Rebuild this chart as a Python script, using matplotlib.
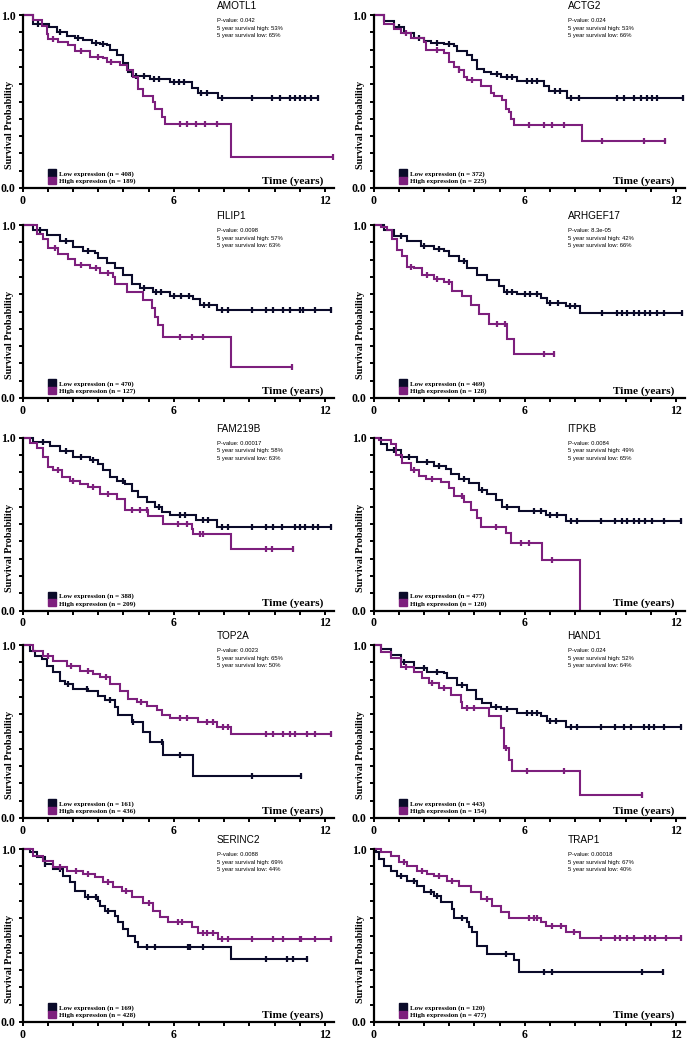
import matplotlib
matplotlib.use("Agg")
import matplotlib.pyplot as plt
import numpy as np
from matplotlib.patches import Patch
from matplotlib.ticker import MultipleLocator, FixedLocator

SERIF = ["Liberation Serif", "DejaVu Serif"]
SANS = ["Liberation Sans", "DejaVu Sans"]

LOW_COLOR = "#0b0b2a"
HIGH_COLOR = "#7d1f7d"

# ---- data: (step times, survival after step), censor times ----
genes = ["AMOTL1", "ACTG2", "FILIP1", "ARHGEF17", "FAM219B",
         "ITPKB", "TOP2A", "HAND1", "SERINC2", "TRAP1"]
p_values = ["0.042", "0.024", "0.0098", "8.3e-05", "0.00017",
            "0.0084", "0.0023", "0.024", "0.0088", "0.00018"]
surv5_high = [53, 53, 57, 42, 58, 49, 65, 52, 69, 67]
surv5_low = [65, 66, 63, 66, 63, 65, 50, 64, 44, 40]
n_low = [408, 372, 470, 469, 388, 477, 161, 443, 169, 120]
n_high = [189, 225, 127, 128, 209, 120, 436, 154, 428, 477]

# AMOTL1
amotl1_low_t = [0.42, 1.06, 1.35, 1.75, 2.08, 2.41, 2.74, 3.07, 3.33, 3.47, 3.73, 3.99, 4.19, 4.33, 5.05, 5.85, 6.71, 6.97, 7.76]
amotl1_low_s = [0.95, 0.93, 0.90, 0.88, 0.87, 0.855, 0.84, 0.83, 0.825, 0.80, 0.77, 0.72, 0.67, 0.645, 0.63, 0.61, 0.58, 0.55, 0.52]
amotl1_low_c = [0.6, 1.5, 2.2, 2.9, 3.2, 4.5, 4.8, 5.2, 5.4, 6.0, 6.2, 6.4, 7.1, 7.3, 7.9, 9.1, 9.9, 10.2, 10.6, 10.8, 11.0, 11.2, 11.45, 11.73]
amotl1_high_t = [0.42, 0.75, 0.95, 1.02, 1.42, 1.81, 2.08, 2.67, 3.2, 3.33, 3.86, 4.13, 4.39, 4.59, 4.79, 5.19, 5.25, 5.52, 5.65, 8.29]
amotl1_high_s = [0.97, 0.935, 0.89, 0.86, 0.845, 0.825, 0.79, 0.76, 0.75, 0.73, 0.71, 0.68, 0.64, 0.575, 0.53, 0.50, 0.455, 0.41, 0.37, 0.18]
amotl1_high_c = [1.2, 2.3, 3.0, 3.5, 6.24, 6.51, 6.9, 7.24, 7.7, 12.33]

# ACTG2
actg2_low_t = [0.41, 0.81, 1.2, 1.6, 2.0, 2.26, 2.79, 3.19, 3.32, 3.72, 3.92, 4.11, 4.38, 4.64, 5.04, 5.7, 6.76, 6.96, 7.69]
actg2_low_s = [0.967, 0.93, 0.895, 0.87, 0.85, 0.84, 0.83, 0.82, 0.79, 0.77, 0.74, 0.69, 0.67, 0.66, 0.64, 0.62, 0.59, 0.56, 0.52]
actg2_low_c = [1.0, 1.8, 2.5, 3.0, 4.9, 5.3, 5.5, 6.1, 6.3, 6.5, 7.2, 7.4, 7.82, 8.15, 9.67, 9.93, 10.33, 10.6, 10.86, 11.06, 11.26, 12.29]
actg2_high_t = [0.41, 0.81, 1.07, 1.47, 2.0, 2.06, 2.79, 2.99, 3.19, 3.39, 3.58, 3.72, 4.25, 4.64, 4.78, 5.11, 5.24, 5.37, 5.44, 5.57, 8.28]
actg2_high_s = [0.95, 0.917, 0.895, 0.865, 0.845, 0.80, 0.78, 0.73, 0.70, 0.68, 0.64, 0.625, 0.59, 0.55, 0.53, 0.51, 0.455, 0.44, 0.40, 0.365, 0.27]
actg2_high_c = [1.3, 2.5, 3.4, 3.9, 6.16, 6.76, 7.09, 7.55, 9.07, 10.73, 11.55]

# FILIP1
filip1_low_t = [0.42, 0.95, 1.48, 2.01, 2.41, 2.87, 3.0, 3.33, 3.66, 3.99, 4.33, 4.66, 5.19, 5.85, 6.77, 7.04, 7.7]
filip1_low_s = [0.97, 0.94, 0.905, 0.875, 0.85, 0.837, 0.81, 0.78, 0.75, 0.71, 0.66, 0.635, 0.61, 0.59, 0.57, 0.54, 0.51]
filip1_low_c = [0.7, 1.7, 2.6, 4.8, 5.3, 5.5, 6.0, 6.3, 6.6, 7.2, 7.4, 7.9, 8.16, 9.09, 9.68, 9.95, 10.34, 10.61, 11.0, 11.14, 11.6, 12.26]
filip1_high_t = [0.56, 0.82, 1.02, 1.42, 1.81, 2.08, 2.67, 3.07, 3.6, 3.66, 4.13, 4.79, 5.12, 5.25, 5.38, 5.58, 8.29]
filip1_high_s = [0.95, 0.92, 0.865, 0.83, 0.805, 0.77, 0.75, 0.72, 0.70, 0.66, 0.615, 0.567, 0.52, 0.47, 0.42, 0.35, 0.177]
filip1_high_c = [1.3, 2.3, 2.9, 3.4, 6.24, 6.71, 7.17, 10.71]

# ARHGEF17
arhgef17_low_t = [0.41, 0.81, 1.34, 1.87, 2.39, 2.79, 2.99, 3.39, 3.72, 4.11, 4.51, 4.97, 5.17, 5.7, 6.63, 6.89, 7.62, 8.21]
arhgef17_low_s = [0.97, 0.937, 0.905, 0.88, 0.86, 0.847, 0.82, 0.79, 0.75, 0.713, 0.68, 0.646, 0.61, 0.60, 0.58, 0.55, 0.53, 0.493]
arhgef17_low_c = [1.1, 2.0, 2.6, 3.6, 5.3, 5.5, 6.0, 6.2, 6.5, 7.0, 7.3, 7.8, 8.0, 9.07, 9.67, 9.87, 10.07, 10.33, 10.53, 10.79, 10.99, 11.26, 11.52, 12.25]
arhgef17_high_t = [0.28, 0.54, 0.74, 0.94, 1.14, 1.34, 1.6, 1.93, 2.39, 2.79, 3.12, 3.52, 3.85, 4.18, 4.58, 5.3, 5.57]
arhgef17_high_s = [0.99, 0.97, 0.92, 0.857, 0.82, 0.76, 0.75, 0.713, 0.69, 0.67, 0.62, 0.59, 0.54, 0.484, 0.426, 0.34, 0.254]
arhgef17_high_c = [1.5, 2.1, 2.5, 3.0, 4.9, 5.2, 6.76, 7.16]

# FAM219B
fam219b_low_t = [0.42, 1.08, 1.48, 2.01, 2.67, 3.0, 3.2, 3.47, 3.73, 4.06, 4.33, 4.59, 4.92, 5.25, 5.52, 5.85, 6.9, 7.7]
fam219b_low_s = [0.977, 0.952, 0.923, 0.885, 0.87, 0.847, 0.81, 0.77, 0.75, 0.73, 0.69, 0.655, 0.626, 0.60, 0.57, 0.55, 0.525, 0.48]
fam219b_low_c = [0.8, 1.7, 2.3, 2.8, 4.0, 5.4, 6.24, 6.44, 7.17, 7.37, 7.9, 8.16, 9.09, 9.68, 9.95, 10.28, 10.81, 11.0, 11.2, 11.53, 11.73, 12.26]
fam219b_high_t = [0.29, 0.56, 0.82, 1.02, 1.22, 1.55, 1.88, 2.28, 2.61, 3.07, 3.73, 4.06, 4.99, 5.58, 6.71, 6.77, 8.29]
fam219b_high_s = [0.97, 0.94, 0.885, 0.828, 0.81, 0.77, 0.75, 0.73, 0.716, 0.674, 0.645, 0.58, 0.544, 0.50, 0.47, 0.44, 0.358]
fam219b_high_c = [1.4, 2.0, 2.8, 3.4, 4.33, 4.66, 4.92, 6.18, 6.51, 7.04, 7.17, 9.68, 9.88, 10.74]

# ITPKB
itpkb_low_t = [0.28, 0.54, 1.07, 1.73, 2.39, 2.86, 3.06, 3.39, 3.78, 4.18, 4.51, 4.84, 5.11, 5.77, 6.83, 7.62]
itpkb_low_s = [0.965, 0.927, 0.89, 0.86, 0.835, 0.82, 0.79, 0.76, 0.735, 0.696, 0.676, 0.64, 0.60, 0.577, 0.55, 0.52]
itpkb_low_c = [0.8, 1.4, 2.1, 2.6, 3.6, 4.3, 5.3, 6.36, 6.63, 7.02, 7.29, 7.82, 8.09, 9.01, 9.6, 9.87, 10.07, 10.33, 10.53, 10.79, 11.06, 11.52, 12.21]
itpkb_high_t = [0.21, 0.67, 0.87, 1.14, 1.47, 1.8, 2.06, 2.66, 2.99, 3.19, 3.58, 3.85, 4.11, 4.25, 5.24, 5.44, 6.69, 8.21]
itpkb_high_s = [0.985, 0.965, 0.898, 0.85, 0.81, 0.78, 0.76, 0.745, 0.706, 0.66, 0.63, 0.58, 0.535, 0.485, 0.446, 0.39, 0.29, 0.0]
itpkb_high_c = [1.6, 2.3, 3.52, 4.84, 5.83, 6.16, 7.09]

# TOP2A
top2a_low_t = [0.29, 0.49, 0.75, 0.95, 1.22, 1.48, 1.68, 2.01, 2.61, 3.0, 3.27, 3.66, 3.8, 4.33, 4.79, 5.05, 5.58, 6.75]
top2a_low_s = [0.966, 0.937, 0.918, 0.88, 0.842, 0.794, 0.775, 0.747, 0.737, 0.708, 0.68, 0.642, 0.598, 0.556, 0.50, 0.437, 0.366, 0.242]
top2a_low_c = [1.81, 2.54, 3.47, 4.39, 5.52, 6.24, 9.09, 11.07]
top2a_high_t = [0.42, 0.82, 1.22, 1.75, 2.28, 2.8, 3.07, 3.47, 3.86, 4.19, 4.52, 4.92, 5.32, 5.52, 5.85, 6.97, 7.7, 8.29]
top2a_high_s = [0.966, 0.937, 0.91, 0.88, 0.85, 0.832, 0.813, 0.775, 0.737, 0.69, 0.67, 0.646, 0.623, 0.594, 0.58, 0.556, 0.528, 0.486]
top2a_high_c = [1.0, 1.9, 2.6, 3.3, 4.7, 6.24, 6.51, 7.3, 7.57, 7.96, 8.16, 9.68, 9.95, 10.34, 10.61, 10.81, 11.27, 11.6, 12.26]

# HAND1
hand1_low_t = [0.28, 0.67, 1.07, 1.6, 2.13, 2.79, 2.92, 3.32, 3.72, 4.05, 4.31, 4.64, 5.04, 5.7, 6.63, 6.89, 7.62]
hand1_low_s = [0.975, 0.942, 0.904, 0.865, 0.846, 0.837, 0.808, 0.77, 0.74, 0.69, 0.663, 0.64, 0.63, 0.606, 0.587, 0.563, 0.525]
hand1_low_c = [1.2, 2.0, 2.5, 3.5, 4.84, 5.3, 6.1, 6.3, 6.5, 7.02, 7.22, 7.82, 8.09, 9.01, 9.6, 9.93, 10.2, 10.73, 10.93, 11.12, 11.52, 12.21]
hand1_high_t = [0.28, 0.67, 1.07, 1.6, 1.93, 2.2, 2.59, 3.06, 3.45, 3.52, 4.58, 5.04, 5.17, 5.37, 5.5, 8.21]
hand1_high_s = [0.96, 0.923, 0.875, 0.846, 0.808, 0.779, 0.75, 0.712, 0.673, 0.635, 0.587, 0.52, 0.404, 0.337, 0.27, 0.135]
hand1_high_c = [1.3, 2.3, 2.8, 3.72, 3.98, 5.24, 6.1, 7.55, 10.66]

# SERINC2
serinc2_low_t = [0.29, 0.56, 0.89, 1.22, 1.61, 1.88, 2.08, 2.47, 3.0, 3.07, 3.27, 3.66, 3.8, 3.99, 4.19, 4.46, 4.59, 8.29]
serinc2_low_s = [0.98, 0.952, 0.913, 0.885, 0.846, 0.808, 0.76, 0.72, 0.70, 0.673, 0.644, 0.615, 0.577, 0.538, 0.50, 0.46, 0.433, 0.362]
serinc2_low_c = [0.9, 1.5, 2.6, 2.9, 3.4, 4.92, 5.25, 6.57, 6.64, 7.17, 9.68, 10.48, 10.74, 11.27]
serinc2_high_t = [0.42, 0.82, 1.22, 1.75, 2.41, 2.87, 3.2, 3.6, 3.93, 4.33, 4.79, 5.19, 5.45, 5.78, 6.71, 6.97, 7.76]
serinc2_high_s = [0.96, 0.933, 0.894, 0.875, 0.856, 0.837, 0.808, 0.78, 0.76, 0.72, 0.69, 0.644, 0.606, 0.577, 0.548, 0.515, 0.48]
serinc2_high_c = [1.5, 2.1, 2.6, 3.4, 4.1, 5.0, 6.18, 6.31, 7.17, 7.3, 7.57, 7.9, 8.16, 9.09, 9.95, 10.34, 11.0, 11.07, 11.6, 12.26]

# TRAP1
trap1_low_t = [0.08, 0.21, 0.41, 0.67, 0.94, 1.34, 1.73, 2.0, 2.39, 2.66, 3.12, 3.19, 3.72, 3.78, 3.92, 4.11, 4.51, 5.57, 5.77]
trap1_low_s = [0.98, 0.94, 0.904, 0.875, 0.846, 0.817, 0.788, 0.75, 0.73, 0.692, 0.654, 0.60, 0.577, 0.548, 0.52, 0.44, 0.394, 0.356, 0.288]
trap1_low_c = [1.1, 1.6, 2.26, 2.53, 3.5, 5.24, 6.76, 7.09, 10.66, 11.49]
trap1_high_t = [0.28, 0.67, 1.0, 1.34, 1.73, 2.13, 2.39, 2.92, 3.39, 3.85, 4.25, 4.71, 5.04, 5.37, 6.63, 6.83, 7.62, 8.21]
trap1_high_s = [0.98, 0.96, 0.923, 0.904, 0.875, 0.856, 0.842, 0.817, 0.788, 0.75, 0.712, 0.673, 0.635, 0.60, 0.577, 0.554, 0.52, 0.485]
trap1_high_c = [1.2, 1.9, 2.6, 3.1, 4.5, 6.16, 6.36, 6.5, 7.09, 7.42, 7.95, 9.01, 9.6, 9.8, 10.07, 10.33, 10.79, 10.99, 11.19, 11.59, 12.21]

low_curves = [
    (amotl1_low_t, amotl1_low_s, amotl1_low_c),
    (actg2_low_t, actg2_low_s, actg2_low_c),
    (filip1_low_t, filip1_low_s, filip1_low_c),
    (arhgef17_low_t, arhgef17_low_s, arhgef17_low_c),
    (fam219b_low_t, fam219b_low_s, fam219b_low_c),
    (itpkb_low_t, itpkb_low_s, itpkb_low_c),
    (top2a_low_t, top2a_low_s, top2a_low_c),
    (hand1_low_t, hand1_low_s, hand1_low_c),
    (serinc2_low_t, serinc2_low_s, serinc2_low_c),
    (trap1_low_t, trap1_low_s, trap1_low_c),
]
high_curves = [
    (amotl1_high_t, amotl1_high_s, amotl1_high_c),
    (actg2_high_t, actg2_high_s, actg2_high_c),
    (filip1_high_t, filip1_high_s, filip1_high_c),
    (arhgef17_high_t, arhgef17_high_s, arhgef17_high_c),
    (fam219b_high_t, fam219b_high_s, fam219b_high_c),
    (itpkb_high_t, itpkb_high_s, itpkb_high_c),
    (top2a_high_t, top2a_high_s, top2a_high_c),
    (hand1_high_t, hand1_high_s, hand1_high_c),
    (serinc2_high_t, serinc2_high_s, serinc2_high_c),
    (trap1_high_t, trap1_high_s, trap1_high_c),
]


def draw_km(ax, times, surv, censor, color):
    """step curve plus censor ticks"""
    t = np.array([0.0] + list(times))
    s = np.array([1.0] + list(surv))
    end = max(max(censor), t[-1])
    ax.step(np.append(t, end), np.append(s, s[-1]), where="post",
            color=color, lw=1.5, solid_joinstyle="miter")
    c = np.array(censor)
    idx = np.searchsorted(t, c, side="right") - 1
    ax.plot(c, s[idx], ls="none", marker="|", ms=4.2, mew=1.6, color=color)


fig = plt.figure(figsize=(6.88, 10.39), dpi=100)
W, H = 688.0, 1039.0
col_left = [22.7, 373.7]
row_bottom = [188, 398, 610.5, 818, 1022]
ax_w = 311.0
ax_h = 174.7  # 0 .. 1.01

for i, gene in enumerate(genes):
    r, c = divmod(i, 2)
    ax = fig.add_axes([col_left[c] / W, 1 - row_bottom[r] / H, ax_w / W, ax_h / H])

    draw_km(ax, *low_curves[i], LOW_COLOR)
    draw_km(ax, *high_curves[i], HIGH_COLOR)

    ax.set_xlim(0, 12.35)
    ax.set_ylim(0, 1.01)
    for side in ["top", "right"]:
        ax.spines[side].set_visible(False)
    for side in ["left", "bottom"]:
        ax.spines[side].set_linewidth(1.6)
    ax.spines["left"].set_bounds(0, 1.0)

    ax.xaxis.set_major_locator(FixedLocator([0, 6, 12]))
    ax.xaxis.set_minor_locator(MultipleLocator(1))
    ax.yaxis.set_major_locator(FixedLocator([0, 1]))
    ax.yaxis.set_minor_locator(MultipleLocator(0.1))
    ax.set_yticklabels(["0.0", "1.0"])
    ax.tick_params(which="both", direction="out", length=3, width=1.4, pad=2)
    for lab in ax.get_xticklabels() + ax.get_yticklabels():
        lab.set_family(SERIF)
        lab.set_fontweight("bold")
        lab.set_fontsize(8.5)

    ax.set_ylabel("Survival Probability", family=SERIF, fontweight="bold", fontsize=7.3)
    ax.yaxis.set_label_coords(-0.028, 0.36)

    ax.text(11.95, 0.04, "Time (years)", family=SERIF, fontweight="bold",
            fontsize=8.2, ha="right", va="center")

    ax.text(7.7, 1.05, gene, family=SANS, fontsize=7.2, ha="left", va="center", clip_on=False)
    info = [f"P-value: {p_values[i]}",
            f"5 year survival high: {surv5_high[i]}%",
            f"5 year survival low: {surv5_low[i]}%"]
    for k, line in enumerate(info):
        ax.text(7.72, 0.967 - k * 0.043, line, family=SANS, fontsize=4.2,
                ha="left", va="center")

    handles = [Patch(facecolor=LOW_COLOR, edgecolor=LOW_COLOR),
               Patch(facecolor=HIGH_COLOR, edgecolor=HIGH_COLOR)]
    labels = [f"Low expression (n = {n_low[i]})", f"High expression (n = {n_high[i]})"]
    ax.legend(handles, labels, loc="lower left", bbox_to_anchor=(0.065, -0.005),
              frameon=False, handlelength=1.2, handleheight=1.2,
              handletextpad=0.35, labelspacing=0.0, borderpad=0.2,
              prop={"family": SERIF, "weight": "bold", "size": 5.0})

fig.savefig("out.png", dpi=100)
